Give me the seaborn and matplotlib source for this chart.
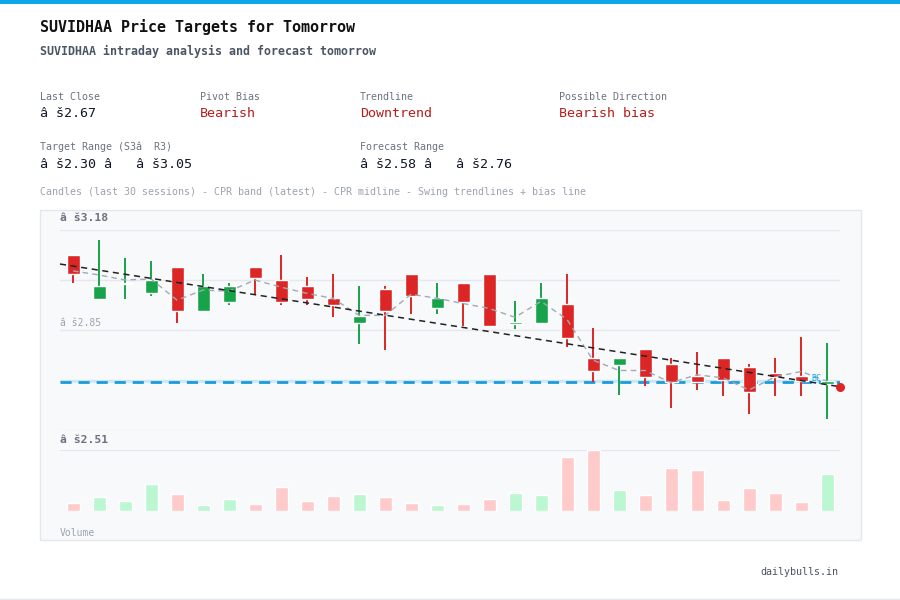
import numpy as np
import pandas as pd
import matplotlib
matplotlib.use("Agg")
import matplotlib.pyplot as plt
from matplotlib.patches import Rectangle
from matplotlib.lines import Line2D
import seaborn as sns

# ---- data ----
ticker = "SUVIDHAA"
opens = [3.096, 2.950, 2.998, 2.970, 3.056, 2.910, 2.940, 3.056, 3.012, 2.992,
         2.952, 2.869, 2.982, 3.034, 2.920, 3.002, 3.034, 2.866, 2.869, 2.932,
         2.751, 2.729, 2.781, 2.731, 2.691, 2.751, 2.721, 2.701, 2.691, 2.664]
highs = [3.096, 3.146, 3.085, 3.076, 3.056, 3.034, 3.003, 3.056, 3.096, 3.023,
         3.033, 2.992, 2.992, 3.034, 3.002, 3.002, 3.034, 2.942, 3.002, 3.034,
         2.852, 2.751, 2.781, 2.751, 2.771, 2.751, 2.731, 2.751, 2.821, 2.801]
lows = [3.001, 2.950, 2.950, 2.960, 2.869, 2.910, 2.930, 2.961, 2.930, 2.930,
        2.890, 2.799, 2.779, 2.900, 2.900, 2.859, 2.859, 2.849, 2.869, 2.789,
        2.671, 2.626, 2.658, 2.585, 2.644, 2.624, 2.565, 2.624, 2.624, 2.546]
closes = [3.032, 2.992, 3.003, 3.012, 2.910, 2.992, 2.992, 3.020, 2.940, 2.950,
          2.930, 2.892, 2.910, 2.960, 2.952, 2.940, 2.859, 2.872, 2.952, 2.819,
          2.709, 2.751, 2.689, 2.670, 2.670, 2.679, 2.636, 2.689, 2.673, 2.674]
volumes = [80, 137, 97, 270, 170, 57, 117, 70, 237, 100,
           147, 170, 140, 80, 57, 67, 117, 177, 157, 537,
           607, 207, 157, 427, 407, 107, 227, 177, 87, 367]

cpr_mid = 2.672
cpr_band = (2.666, 2.678)
trend_x = [-0.5, 29.5]
trend_y = [3.066, 2.655]
price_lo, price_hi = 2.51, 3.18
axis_labels = ["â š3.18", "â š2.85", "â š2.51"]

stats_row1 = [("Last Close", "â š2.67", "#111827"),
              ("Pivot Bias", "Bearish", "#b91c1c"),
              ("Trendline", "Downtrend", "#b91c1c"),
              ("Possible Direction", "Bearish bias", "#b91c1c")]
stats_row2 = [("Target Range (S3â  R3)", "â š2.30 â   â š3.05", "#111827"),
              ("Forecast Range", "â š2.58 â   â š2.76", "#111827")]

df = pd.DataFrame({"i": np.arange(len(opens)), "open": opens, "high": highs,
                   "low": lows, "close": closes, "volume": volumes})
df["up"] = df["close"] >= df["open"]
df["pivot"] = (df["high"] + df["low"] + df["close"]) / 3

sns.set_theme(style="white")
plt.rcParams["font.family"] = ["DejaVu Sans Mono", "DejaVu Sans"]

W, H = 900, 600
fig = plt.figure(figsize=(9, 6), dpi=100)
fig.patch.set_facecolor("white")

def fx(x):
    return x / W

def fy(y):
    return 1 - y / H

RED, GREEN = "#dc2626", "#16a34a"

# top accent bar + bottom rule
fig.add_artist(Rectangle((0, fy(4)), 1, 4 / H, transform=fig.transFigure,
                         facecolor="#0ea5e9", edgecolor="none"))
fig.add_artist(Line2D([0, 1], [fy(598.5)] * 2, transform=fig.transFigure,
                      color="#e5e7eb", lw=1))

# header
fig.text(fx(40), fy(27), f"{ticker} Price Targets for Tomorrow", fontsize=10.8,
         fontweight="bold", color="#111111", va="center")
fig.text(fx(40), fy(51), f"{ticker} intraday analysis and forecast tomorrow",
         fontsize=8.4, fontweight="bold", color="#4b5563", va="center")

for (lab, val, col), x in zip(stats_row1, [40, 200, 360, 559]):
    fig.text(fx(x), fy(97), lab, fontsize=7.2, color="#6b7280", va="center")
    fig.text(fx(x), fy(114), val, fontsize=9.6, color=col, va="center")
for (lab, val, col), x in zip(stats_row2, [40, 360]):
    fig.text(fx(x), fy(147), lab, fontsize=7.2, color="#6b7280", va="center")
    fig.text(fx(x), fy(164), val, fontsize=9.6, color=col, va="center")

fig.text(fx(40), fy(192),
         "Candles (last 30 sessions) - CPR band (latest) - CPR midline - "
         "Swing trendlines + bias line", fontsize=7.2, color="#9ca3af", va="center")

# chart panel
fig.add_artist(Rectangle((fx(40), fy(540)), 821 / W, 330 / H, transform=fig.transFigure,
                         facecolor="#f8f9fb", edgecolor="#e5e7eb", lw=1, zorder=0))

# price axes
ax = fig.add_axes([fx(60), fy(430), 780 / W, 200 / H])
ax.set_facecolor("none")
ax.set_xlim(-0.5, 29.5)
ax.set_ylim(price_lo, price_hi)
for lvl in np.linspace(price_lo, price_hi, 5):
    ax.axhline(lvl, color="#e6e8ec", lw=1, zorder=0)

# CPR band
ax.axhspan(cpr_band[0], cpr_band[1], color="#bae6fd", alpha=0.7, lw=0, zorder=1)
ax.axhline(cpr_mid, color="#1d9bd6", lw=2, ls=(0, (4, 2.5)), zorder=2)

# candles
for _, r in df.iterrows():
    c = GREEN if r["up"] else RED
    ax.vlines(r["i"], r["low"], r["high"], color=c, lw=1.4, zorder=3)
    lo_b = min(r["open"], r["close"])
    hi_b = max(r["open"], r["close"])
    ax.bar(r["i"], max(hi_b - lo_b, 0.004), bottom=lo_b, width=0.5,
           color=c, zorder=4)

# CPR midline (pivot) path
sns.lineplot(data=df, x="i", y="pivot", ax=ax, color="#a3a8b3", lw=1,
             dashes=False, linestyle=(0, (4, 3)), zorder=5)

# trendline + bias dot
ax.plot(trend_x, trend_y, color="#222222", lw=1.1, ls=(0, (4, 3)), zorder=6)
ax.scatter([trend_x[-1]], [trend_y[-1]], s=30, color=RED, zorder=7, clip_on=False)
ax.text(28.6, cpr_mid + 0.012, "BC", fontsize=6, color="#0ea5e9", va="center",
        ha="center", zorder=6)

ax.set_xlabel("")
ax.set_ylabel("")
ax.set_xticks([])
ax.set_yticks([])
for s in ax.spines.values():
    s.set_visible(False)

# volume axes
vax = fig.add_axes([fx(60), fy(510.7), 780 / W, 60.7 / H])
vax.set_facecolor("none")
vax.axhline(max(volumes), color="#e6e8ec", lw=1, zorder=0)
vol_colors = ["#bbf7d0" if u else "#fecaca" for u in df["up"]]
sns.barplot(x=df["i"], y=df["volume"], ax=vax, palette=vol_colors, hue=df["i"],
            legend=False, width=0.5, saturation=1, zorder=2)
vax.set_xlim(-0.5, 29.5)
vax.set_ylim(0, max(volumes))
vax.set_xlabel("")
vax.set_ylabel("")
vax.set_xticks([])
vax.set_yticks([])
for s in vax.spines.values():
    s.set_visible(False)

# axis labels
fig.text(fx(60), fy(218), axis_labels[0], fontsize=8.2, fontweight="bold",
         color="#6b7280", va="center")
fig.text(fx(60), fy(323), axis_labels[1], fontsize=7, color="#9ca3af", va="center")
fig.text(fx(60), fy(440), axis_labels[2], fontsize=8.2, fontweight="bold",
         color="#6b7280", va="center")
fig.text(fx(60), fy(533), "Volume", fontsize=7, color="#9ca3af", va="center")

fig.text(fx(838), fy(572), "dailybulls.in", fontsize=7.2, color="#4b5563",
         va="center", ha="right")

fig.savefig("out.png", dpi=100, facecolor="white")
